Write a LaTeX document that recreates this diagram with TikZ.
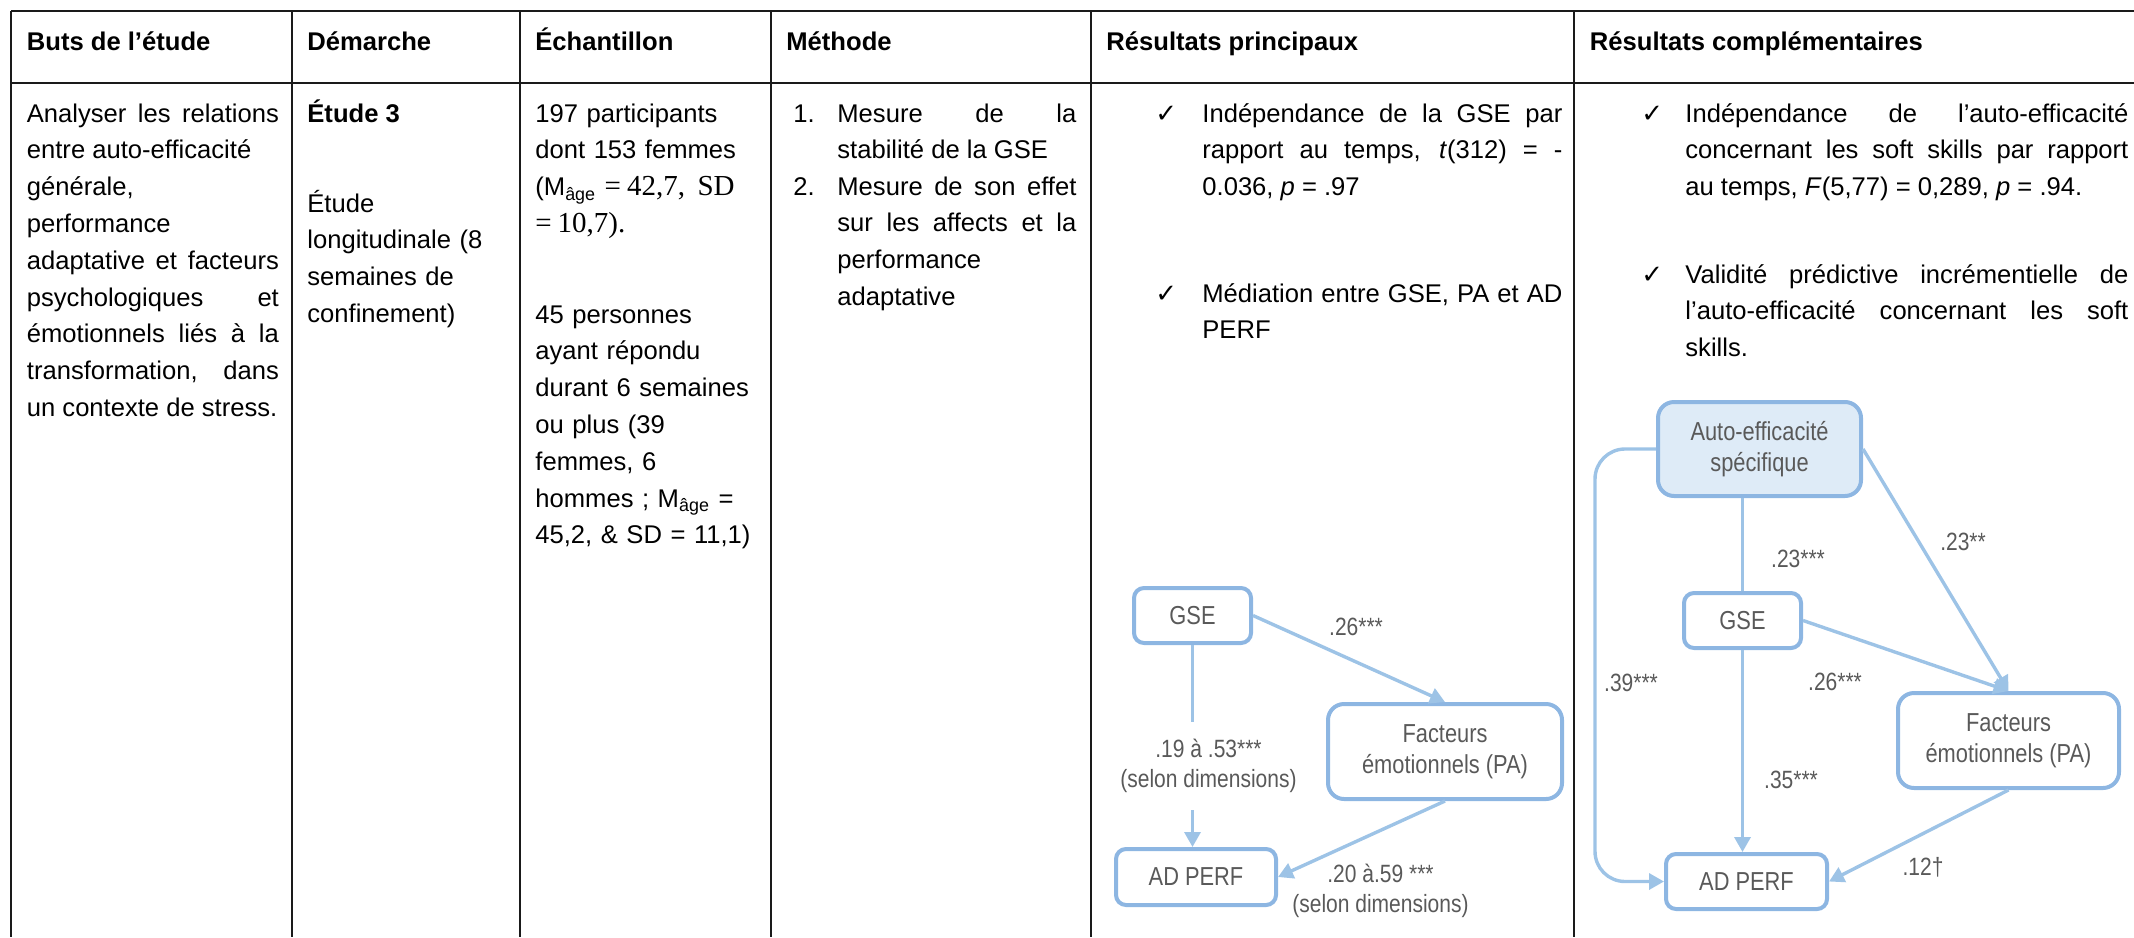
\documentclass[tikz,border=0pt]{standalone}
\usepackage{fontspec}
\setmainfont{Liberation Sans}
\newfontfamily\timesfont{Liberation Serif}
\newfontfamily\checkfont{DejaVu Sans}
\newfontfamily\diagfont{Liberation Sans}[FakeStretch=0.84]
\usetikzlibrary{arrows.meta,positioning,calc}

\definecolor{gridline}{HTML}{1A1A1A}
\definecolor{linkblue}{HTML}{9DC3E6}
\definecolor{boxblue}{HTML}{8DB6E2}
\definecolor{boxfill}{HTML}{DEEBF7}
\definecolor{labelgrey}{HTML}{595959}

\newcommand{\tick}{{\checkfont\fontsize{13}{13}\selectfont ✓}}
\newcommand{\mathpart}[1]{{\timesfont\fontsize{14.5}{18.4}\selectfont #1}}

\hyphenpenalty=10000
\exhyphenpenalty=10000
\tolerance=10000

\tikzset{
  grid/.style={draw=gridline,line width=0.85pt},
  headtext/.style={anchor=base west,inner sep=0pt,font=\fontsize{12.8}{18.4}\selectfont\bfseries},
  bodytext/.style={anchor=base west,inner sep=0pt,font=\fontsize{12.8}{18.4}\selectfont},
  parjust/.style={bodytext,text width=#1,align=justify},
  parleft/.style={bodytext,text width=#1,align=left},
  varbox/.style={draw=boxblue,line width=2pt,rounded corners=5pt,text=labelgrey,
    align=center,inner sep=0pt,font=\diagfont\fontsize{13}{15.5}\selectfont},
  bigbox/.style={varbox,rounded corners=8pt},
  link/.style={draw=linkblue,line width=1.7pt},
  linkarrow/.style={link,-{Triangle[length=7.5pt,width=8pt]}},
  coef/.style={text=labelgrey,inner sep=0pt,align=center,font=\diagfont\fontsize{12.5}{15}\selectfont}
}

\begin{document}
\begin{tikzpicture}[x=0.5pt,y=-0.5pt]
    \useasboundingbox (0,0) rectangle (2134,937);

    % Table grid
    \draw[grid] (11,11) -- (2134,11);
    \draw[grid] (11,83) -- (2134,83);
    \foreach \colx in {11,292,520,771,1091,1574}
        \draw[grid] (\colx,11) -- (\colx,937);

    % Header row
    \node[headtext] (headGoal) at (26.5,50) {Buts de l’étude};
    \node[headtext] (headApproach) at (307,50) {Démarche};
    \node[headtext] (headSample) at (535,50) {Échantillon};
    \node[headtext] (headMethod) at (786,50) {Méthode};
    \node[headtext] (headMain) at (1106,50) {Résultats principaux};
    \node[headtext] (headExtra) at (1589.5,50) {Résultats complémentaires};

    % Goal and approach columns
    \node[parjust=126pt] (goalText) at (26.5,122) {Analyser les relations\linebreak entre auto-efficacité\newline générale,\newline performance\newline adaptative et facteurs\linebreak psychologiques et\linebreak émotionnels liés à la\linebreak transformation, dans\linebreak un contexte de stress.};
    \node[headtext] (studyTitle) at (307,122) {Étude 3};
    \node[parleft=100pt] (studyType) at (307,212) {Étude\\longitudinale (8\\semaines de\\confinement)};

    % Sample column
    \node[parleft=110pt] (sampleAll) at (535,122) {197 participants\\dont 153 femmes\\(M\textsubscript{âge} \mathpart{=\hspace{3pt}42,7,\hspace{2pt} SD}\\\mathpart{=\hspace{3pt}10,7).}};
    \node[parleft=110pt] (sampleLong) at (535,323) {45 personnes\\ayant répondu\\durant 6 semaines\\ou plus (39\\femmes, 6\\hommes ; M\textsubscript{âge} =\\45,2, \& SD = 11,1)};

    % Method column
    \node[bodytext] (stepOneNum) at (793,122) {1.};
    \node[parjust=119.5pt] (stepOne) at (837,122) {Mesure de la\linebreak stabilité de la GSE};
    \node[bodytext] (stepTwoNum) at (793,195) {2.};
    \node[parjust=119.5pt] (stepTwo) at (837,195) {Mesure de son effet\linebreak sur les affects et la\linebreak performance\newline adaptative};

    % Main results column
    \node[bodytext] (tickMainA) at (1155,122) {\tick};
    \node[parjust=180pt] (mainA) at (1202,122) {Indépendance de la GSE par\linebreak rapport au temps, \textit{t}(312) = -\linebreak 0.036, \textit{p} = .97};
    \node[bodytext] (tickMainB) at (1155,302) {\tick};
    \node[parjust=180pt] (mainB) at (1202,302) {Médiation entre GSE, PA et AD\linebreak PERF};

    % Complementary results column
    \node[bodytext] (tickExtraA) at (1641,122) {\tick};
    \node[parjust=221.5pt] (extraA) at (1685,122) {Indépendance de l’auto-efficacité\linebreak concernant les soft skills par rapport\linebreak au temps, \textit{F}(5,77) = 0,289, \textit{p} = .94.};
    \node[bodytext] (tickExtraB) at (1641,283) {\tick};
    \node[parjust=221.5pt] (extraB) at (1685,283) {Validité prédictive incrémentielle de\linebreak l’auto-efficacité concernant les soft\linebreak skills.};

    % ================== Mediation model ==================
    \node[varbox,minimum width=58.5pt,minimum height=27.5pt] (gseA) at (1192.5,615.5) {GSE};
    \node[bigbox,minimum width=117pt,minimum height=47.5pt] (factA) at (1445,751.5) {Facteurs\\émotionnels (PA)};
    \node[varbox,minimum width=80pt,minimum height=28pt] (perfA) at (1196,877) {AD PERF};

    \draw[linkarrow] (gseA.east) -- (factA.north);
    \draw[linkarrow] (gseA.south) -- node[coef,fill=white,pos=0.6,xshift=8pt,inner xsep=2pt,inner ysep=8.5pt] (coefA2) {.19 à .53***\\(selon dimensions)} (gseA.south |- perfA.north);
    \draw[linkarrow] (factA.south) -- (perfA.east);

    \node[coef,anchor=base] (coefA1) at (1356,635) {.26***};
    \node[coef] (coefA3) at (1380.5,890.4) {.20 à.59 ***\\(selon dimensions)};

    % ================== Specific self-efficacy model ==================
    \node[bigbox,fill=boxfill,minimum width=101.5pt,minimum height=47pt] (autoB) at (1759.5,449) {Auto-efficacité\\spécifique};
    \node[varbox,minimum width=58.5pt,minimum height=27.5pt] (gseB) at (1742.5,620.5) {GSE};
    \node[bigbox,minimum width=110.5pt,minimum height=47.5pt] (factB) at (2008.5,740.5) {Facteurs\\émotionnels (PA)};
    \node[varbox,minimum width=80.5pt,minimum height=27.5pt] (perfB) at (1746.5,881.5) {AD PERF};

    \draw[link] (gseB.north |- autoB.south) -- (gseB.north);
    \draw[linkarrow] (autoB.east) -- (factB.north);
    \draw[linkarrow] (gseB.east) -- (factB.north);
    \draw[linkarrow] (gseB.south) -- (gseB.south |- perfB.north);
    \draw[linkarrow] (factB.south) -- (perfB.east);
    \draw[linkarrow,rounded corners=15pt] (autoB.west) -- ++(-61,0) |- (perfB.west);

    \node[coef,anchor=base] (coefB1) at (1798,567) {.23***};
    \node[coef,anchor=base] (coefB2) at (1963,550) {.23**};
    \node[coef,anchor=base] (coefB3) at (1835,690) {.26***};
    \node[coef,anchor=base] (coefB4) at (1791,788) {.35***};
    \node[coef,anchor=base] (coefB5) at (1923,875) {.12†};
    \node[coef,anchor=base] (coefB6) at (1631,691) {.39***};
\end{tikzpicture}
\end{document}
